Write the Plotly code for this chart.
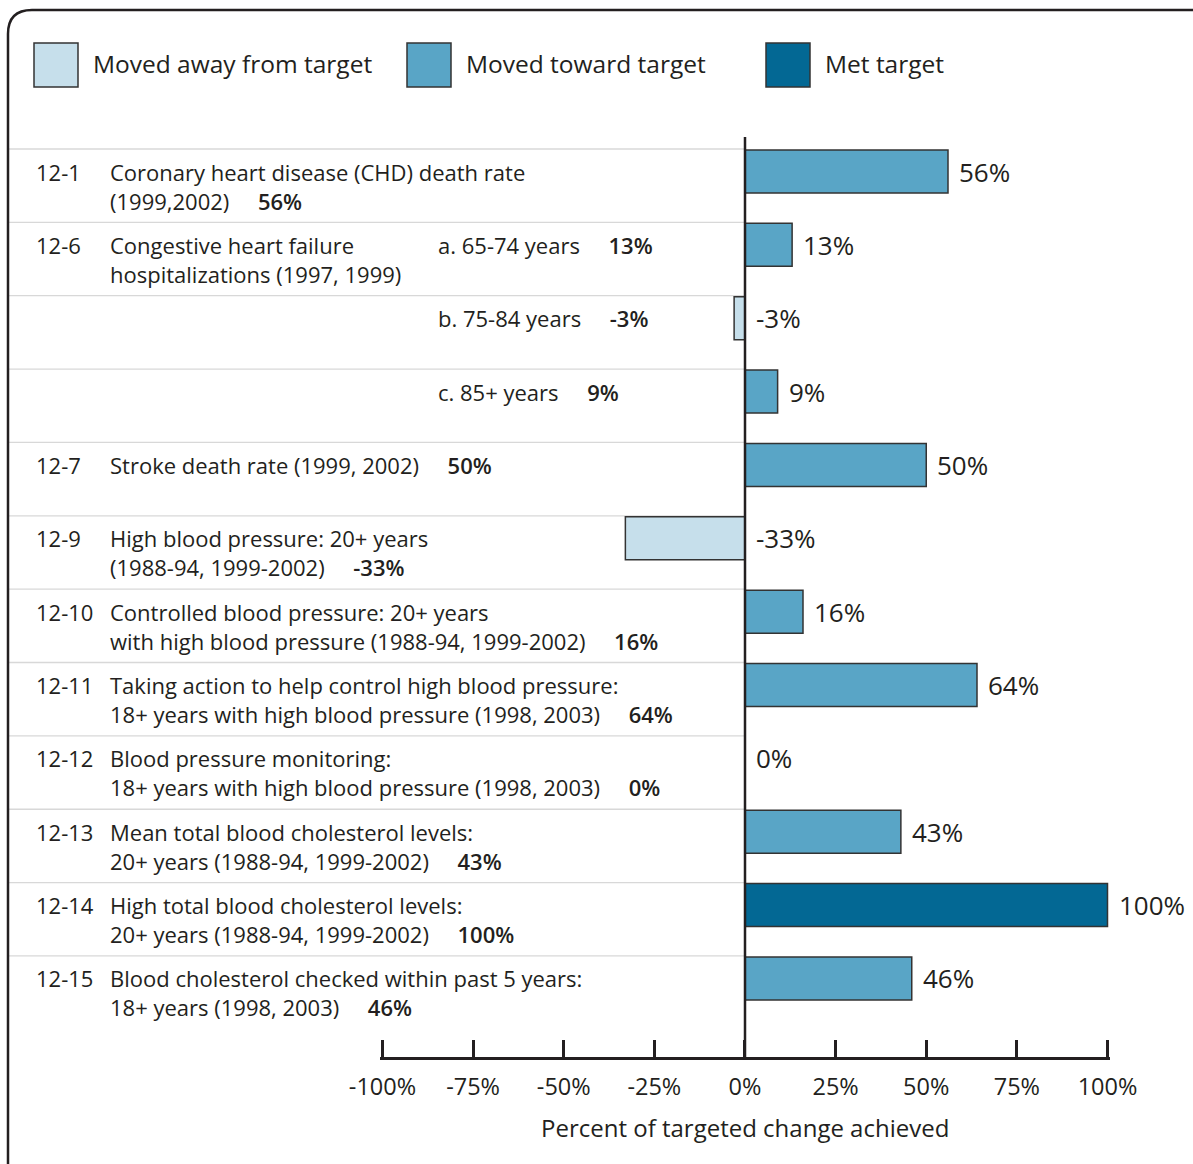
import plotly.graph_objects as go

# ---------------- data ----------------
objective_ids = ["12-1", "12-6", "", "", "12-7", "12-9", "12-10", "12-11",
                 "12-12", "12-13", "12-14", "12-15"]
objective_text = [
    ["Coronary heart disease (CHD) death rate", "(1999,2002)"],
    ["Congestive heart failure", "hospitalizations (1997, 1999)"],
    [],
    [],
    ["Stroke death rate (1999, 2002)"],
    ["High blood pressure: 20+ years", "(1988-94, 1999-2002)"],
    ["Controlled blood pressure: 20+ years", "with high blood pressure (1988-94, 1999-2002)"],
    ["Taking action to help control high blood pressure:", "18+ years with high blood pressure (1998, 2003)"],
    ["Blood pressure monitoring:", "18+ years with high blood pressure (1998, 2003)"],
    ["Mean total blood cholesterol levels:", "20+ years (1988-94, 1999-2002)"],
    ["High total blood cholesterol levels:", "20+ years (1988-94, 1999-2002)"],
    ["Blood cholesterol checked within past 5 years:", "18+ years (1998, 2003)"],
]
subgroups = ["", "a. 65-74 years", "b. 75-84 years", "c. 85+ years", "", "", "",
             "", "", "", "", ""]
percent_achieved = [56, 13, -3, 9, 50, -33, 16, 64, 0, 43, 100, 46]
status = ["toward", "toward", "away", "toward", "toward", "away", "toward",
          "toward", "toward", "toward", "met", "toward"]

status_order = ["away", "toward", "met"]
status_labels = ["Moved away from target", "Moved toward target", "Met target"]
axis_ticks = [-100, -75, -50, -25, 0, 25, 50, 75, 100]
axis_title = "Percent of targeted change achieved"

# ---------------- style ----------------
W, H = 1193, 1164
FONT = "Open Sans"
INK = "#231f20"
status_colors = {"away": "#c6dfeb", "toward": "#59a5c6", "met": "#036894"}
BAR_EDGE = "#333333"
SEP = "#d8d8d8"
NBSP = "\u00a0"

# scale set up so that -100..100 spans the chart's axis
PX_PER_UNIT = 3.625
ZERO_PX = 745
ROW_PX = 73.36
FIRST_CENTER_PX = 171.5
x_range = [-ZERO_PX / PX_PER_UNIT, (W - ZERO_PX) / PX_PER_UNIT]
y_range = [(H - FIRST_CENTER_PX) / ROW_PX, -FIRST_CENTER_PX / ROW_PX]
BAR_W = 43 / ROW_PX
HALF_ROW = 22.5 / ROW_PX
AX_PAD = 0.6  # small extension so end ticks are not clipped


def px(x):
    return x / W


def py(y):
    return 1 - y / H


fig = go.Figure()
n = len(percent_achieved)
rows = list(range(n))

for key in status_order:
    idx = [i for i in rows if status[i] == key]
    fig.add_trace(go.Bar(
        x=[percent_achieved[i] for i in idx],
        y=idx,
        orientation="h",
        width=BAR_W,
        marker=dict(color=status_colors[key], line=dict(color=BAR_EDGE, width=1.5)),
        showlegend=False,
        hoverinfo="x",
    ))

# invisible trace to realise the bottom percent axis
fig.add_trace(go.Scatter(x=[axis_ticks[0], axis_ticks[-1]], y=[0, 0], xaxis="x2",
                         yaxis="y", mode="markers", marker=dict(opacity=0),
                         hoverinfo="skip", showlegend=False))

shapes = []
annotations = []

# row separators (left panel only)
for i in rows:
    shapes.append(dict(type="line", xref="x", yref="y",
                       x0=x_range[0] + 8 / PX_PER_UNIT, x1=0,
                       y0=i - HALF_ROW, y1=i - HALF_ROW,
                       line=dict(color=SEP, width=1.3), layer="below"))

# zero line
shapes.append(dict(type="line", xref="x", yref="y", x0=0, x1=0,
                   y0=(137 - FIRST_CENTER_PX) / ROW_PX,
                   y1=(1058 - FIRST_CENTER_PX) / ROW_PX,
                   line=dict(color=INK, width=2.5)))

# outer rounded frame
r = 24
path = (f"M {px(8)},{py(1178)} L {px(8)},{py(10 + r)} "
        f"Q {px(8)},{py(10)} {px(8 + r)},{py(10)} L {px(1205)},{py(10)}")
shapes.append(dict(type="path", xref="paper", yref="paper", path=path,
                   line=dict(color=INK, width=2.5)))

# legend
legend_box_left = [34, 407, 766]
for j, key in enumerate(status_order):
    x0 = legend_box_left[j]
    shapes.append(dict(type="rect", xref="paper", yref="paper",
                       x0=px(x0), x1=px(x0 + 44), y0=py(87), y1=py(43),
                       fillcolor=status_colors[key],
                       line=dict(color=BAR_EDGE, width=1.5)))
    annotations.append(dict(xref="paper", yref="paper", x=px(x0 + 57), y=py(63),
                            text=status_labels[j], showarrow=False,
                            xanchor="left", yanchor="middle",
                            font=dict(family=FONT, size=24.5, color=INK)))

txt_font = dict(family=FONT, size=22, color=INK)
for i in rows:
    v = percent_achieved[i]
    inline_val = NBSP * 5 + f"<span style='font-weight:600'>{v}%</span>"
    if objective_ids[i]:
        annotations.append(dict(xref="paper", yref="y", x=px(34), y=i, yshift=0,
                                text=objective_ids[i], showarrow=False,
                                xanchor="left", yanchor="middle", font=txt_font))
    lines = list(objective_text[i])
    if lines:
        body = "<br>".join(lines)
        if not subgroups[i]:
            body += inline_val
        annotations.append(dict(xref="paper", yref="y", x=px(108), y=i,
                                yshift=-14.5 if len(lines) == 2 else 0,
                                text=body, showarrow=False, align="left",
                                xanchor="left", yanchor="middle", font=txt_font))
    if subgroups[i]:
        annotations.append(dict(xref="paper", yref="y", x=px(436), y=i, yshift=0,
                                text=subgroups[i] + inline_val, showarrow=False,
                                xanchor="left", yanchor="middle", font=txt_font))
    # value label at bar end
    annotations.append(dict(xref="x", yref="y", x=max(v, 0), y=i, xshift=9,
                            text=f"{v}%", showarrow=False, xanchor="left",
                            yanchor="middle",
                            font=dict(family=FONT, size=26, color=INK)))

annotations.append(dict(xref="x", yref="paper", x=0, y=py(1127), text=axis_title,
                        showarrow=False, xanchor="center", yanchor="middle",
                        font=dict(family=FONT, size=24, color=INK)))

fig.update_layout(
    width=W, height=H,
    margin=dict(l=0, r=0, t=0, b=0, pad=0, autoexpand=False),
    paper_bgcolor="white", plot_bgcolor="rgba(0,0,0,0)",
    barmode="overlay",
    showlegend=False,
    xaxis=dict(range=x_range, domain=[0, 1], visible=False, fixedrange=True,
               automargin=False),
    xaxis2=dict(range=[axis_ticks[0] - AX_PAD, axis_ticks[-1] + AX_PAD],
                domain=[px(ZERO_PX + (axis_ticks[0] - AX_PAD) * PX_PER_UNIT),
                        px(ZERO_PX + (axis_ticks[-1] + AX_PAD) * PX_PER_UNIT)],
                anchor="free", position=py(1058), side="bottom",
                showline=True, linecolor=INK, linewidth=2.5,
                ticks="inside", ticklen=17, tickwidth=2.5, tickcolor=INK,
                tickvals=axis_ticks, ticktext=[f"{t}%" for t in axis_ticks],
                tickfont=dict(family=FONT, size=23.5, color=INK),
                ticklabelstandoff=7, automargin=False,
                showgrid=False, zeroline=False, fixedrange=True),
    yaxis=dict(range=y_range, domain=[0, 1], visible=False, fixedrange=True,
               automargin=False),
    shapes=shapes,
    annotations=annotations,
)

fig.write_html("out.html", config={"displayModeBar": False},
               post_script="document.body.style.margin='0';")
